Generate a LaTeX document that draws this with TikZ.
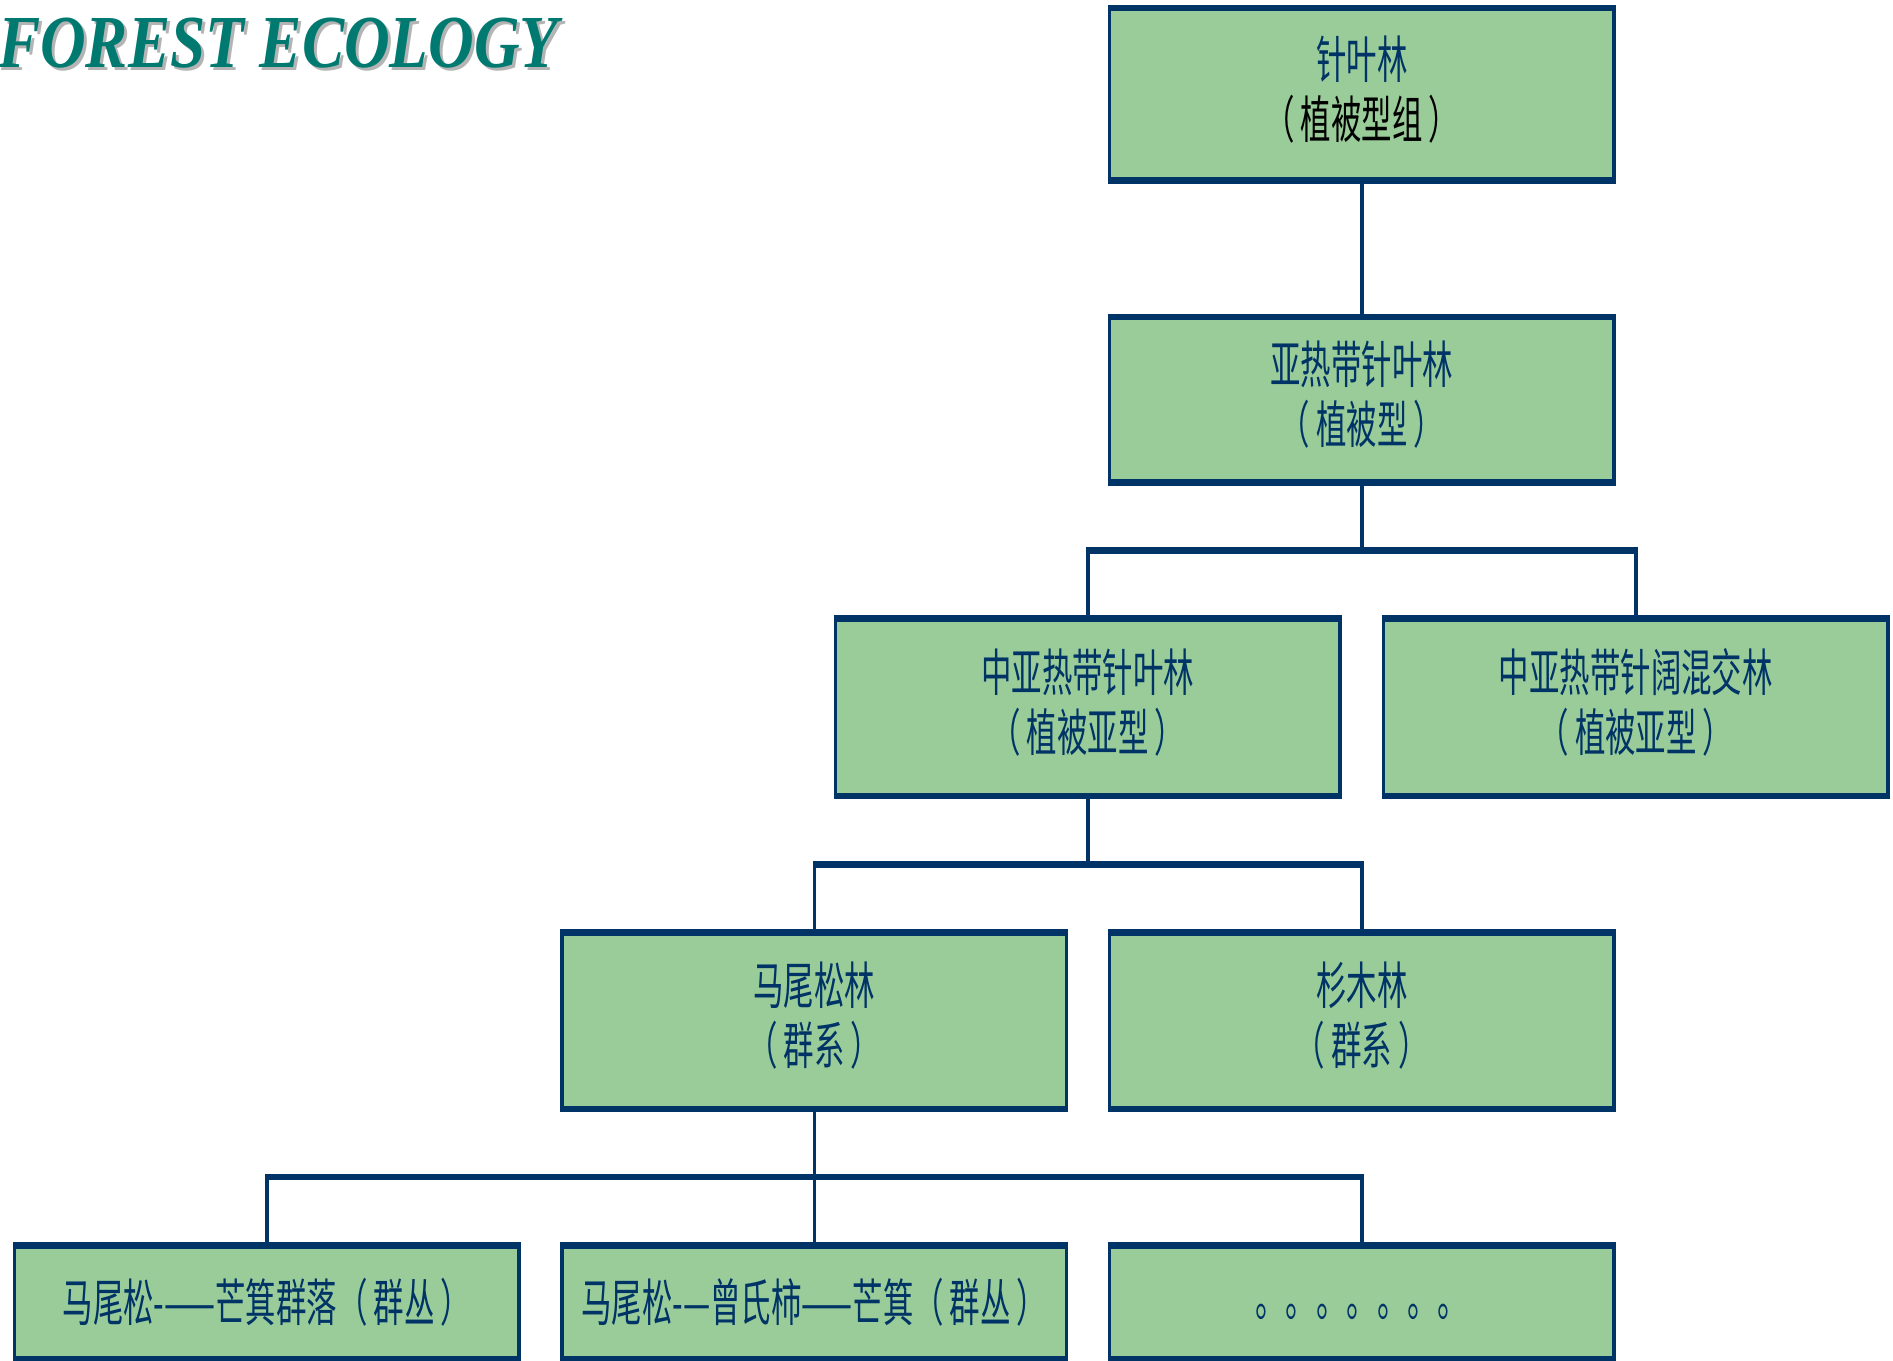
\documentclass[tikz,border=0pt]{standalone}
\usepackage{fontspec}
\usepackage{graphicx}
\usetikzlibrary{calc}
\newfontfamily\cjk{Noto Sans CJK SC}[FakeStretch=0.6]
\newfontfamily\titlefont{Liberation Serif}
\definecolor{boxgreen}{HTML}{9ACC99}
\definecolor{boxnavy}{HTML}{003366}
\definecolor{titleteal}{HTML}{007A70}
\definecolor{titleshadow}{HTML}{B4B4B4}
\newcommand{\lp}{（\hspace{2.5pt}}
\newcommand{\rp}{\hspace{2.5pt}）}
\newcommand{\upl}[1]{\raisebox{2pt}[\height][\depth]{#1}}
\tikzset{
  box/.style={draw=boxnavy, fill=boxgreen, line width=1.5pt, minimum width=209pt,
    inner sep=0pt, outer sep=0pt, text=boxnavy, align=center,
    font=\cjk\fontsize{21}{25}\selectfont},
  edgeband/.style={draw=boxnavy, line width=2.7pt},
  vline/.style={draw=boxnavy, line width=1.5pt},
  busline/.style={draw=boxnavy, line width=2.7pt},
  titletext/.style={anchor=base west, inner sep=0pt,
    font=\titlefont\bfseries\itshape\fontsize{31}{31}\selectfont}
}
\begin{document}
\begin{tikzpicture}[x=0.5pt,y=-0.5pt]
\useasboundingbox (0,0) rectangle (1568,1127);
% title
\node[titletext, text=titleshadow] (tshadow) at (0.5,58.5) {\scalebox{0.845}[1]{FOREST ECOLOGY}};
\node[titletext, text=titleteal] (title) at (-2,56) {\scalebox{0.845}[1]{FOREST ECOLOGY}};
% boxes
\node[box, minimum height=71.5pt] (b1) at (1128,78) {\upl{针叶林}\\{\color{black}\upl{\lp 植被型组\rp}}};
\node[box, minimum height=68.5pt] (b2) at (1128,331) {\upl{亚热带针叶林}\\\upl{\lp 植被型\rp}};
\node[box, minimum height=73.5pt] (b3) at (901,586) {\upl{中亚热带针叶林}\\\upl{\lp 植被亚型\rp}};
\node[box, minimum height=73.5pt] (b4) at (1355,586) {\upl{中亚热带针阔混交林}\\\upl{\lp 植被亚型\rp}};
\node[box, minimum height=73pt] (b5) at (674.5,845.5) {\upl{马尾松林}\\\upl{\lp 群系\rp}};
\node[box, minimum height=73pt] (b6) at (1128,845.5) {\upl{杉木林}\\\upl{\lp 群系\rp}};
\node[box, minimum height=47pt] (b7) at (221,1078.5) {马尾松-——芒箕群落\lp 群丛\rp};
\node[box, minimum height=47pt] (b8) at (674.5,1078.5) {马尾松-—曾氏柿——芒箕\lp 群丛\rp};
\node[box, minimum height=47pt] (b9) at (1128,1078.5) {\raisebox{-4pt}[\height][\depth]{。。。。。。。}};
\foreach \i in {1,...,9}{
  \draw[edgeband] ([xshift=-0.75pt]b\i.north west) -- ([xshift=0.75pt]b\i.north east);
  \draw[edgeband] ([xshift=-0.75pt]b\i.south west) -- ([xshift=0.75pt]b\i.south east);
}
% connectors
\draw[vline] (b1.south) -- (b2.north);
\coordinate (m1) at ($(b2.south)!0.5!(b2.south |- b3.north)$);
\draw[vline] (b2.south) -- (m1);
\draw[busline] ([xshift=-0.75pt]b3.north |- m1) -- ([xshift=0.75pt]b4.north |- m1);
\draw[vline] (b3.north |- m1) -- (b3.north);
\draw[vline] (b4.north |- m1) -- (b4.north);
\coordinate (m2) at ($(b3.south)!0.5!(b3.south |- b5.north)$);
\draw[vline] (b3.south) -- (m2);
\draw[busline] ([xshift=-0.75pt]b5.north |- m2) -- ([xshift=0.75pt]b6.north |- m2);
\draw[vline] (b5.north |- m2) -- (b5.north);
\draw[vline] (b6.north |- m2) -- (b6.north);
\coordinate (m3) at ($(b5.south)!0.5!(b5.south |- b8.north)$);
\draw[vline] (b5.south) -- (b8.north);
\draw[busline] ([xshift=-0.75pt]b7.north |- m3) -- ([xshift=0.75pt]b9.north |- m3);
\draw[vline] (b7.north |- m3) -- (b7.north);
\draw[vline] (b9.north |- m3) -- (b9.north);
\end{tikzpicture}
\end{document}
